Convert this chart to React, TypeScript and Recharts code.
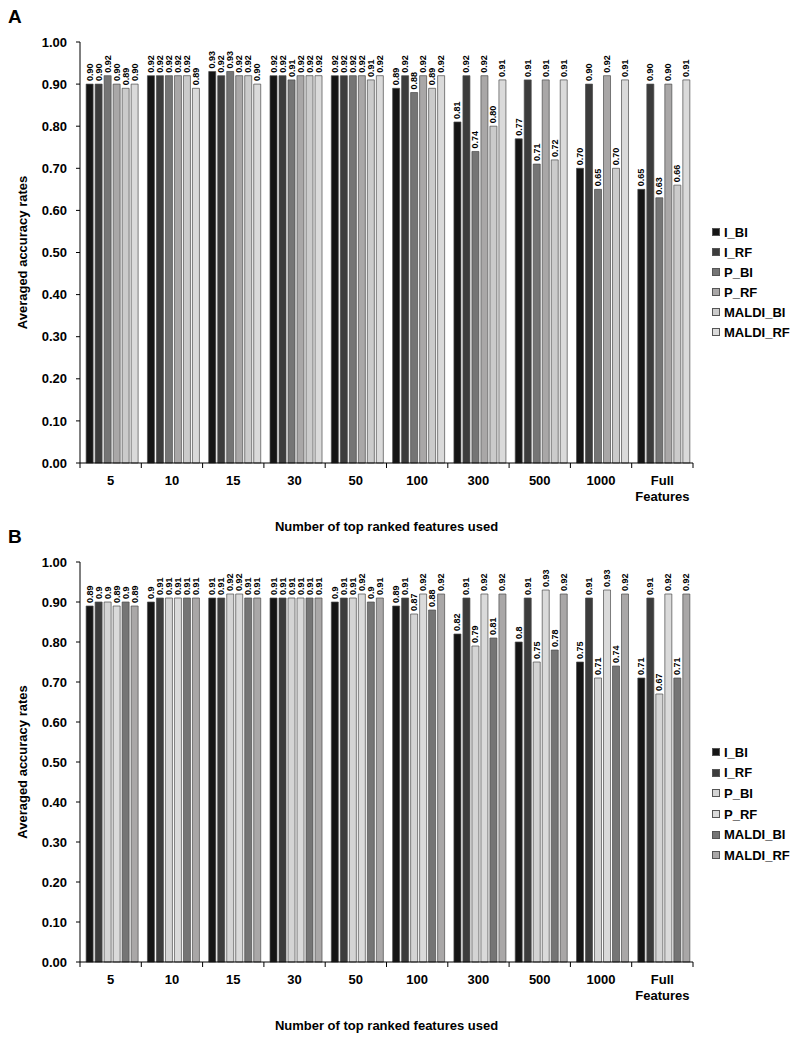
import React from 'react';
import { BarChart, Bar, XAxis, YAxis, LabelList, Label } from 'recharts';

const categories = ['5', '10', '15', '30', '50', '100', '300', '500', '1000', 'Full Features'];
const seriesNames = ['I_BI', 'I_RF', 'P_BI', 'P_RF', 'MALDI_BI', 'MALDI_RF'];
const yTicks = [0, 0.1, 0.2, 0.3, 0.4, 0.5, 0.6, 0.7, 0.8, 0.9, 1.0];

// panel A
const aIBI = [0.90, 0.92, 0.93, 0.92, 0.92, 0.89, 0.81, 0.77, 0.70, 0.65];
const aIRF = [0.90, 0.92, 0.92, 0.92, 0.92, 0.92, 0.92, 0.91, 0.90, 0.90];
const aPBI = [0.92, 0.92, 0.93, 0.91, 0.92, 0.88, 0.74, 0.71, 0.65, 0.63];
const aPRF = [0.90, 0.92, 0.92, 0.92, 0.92, 0.92, 0.92, 0.91, 0.92, 0.90];
const aMBI = [0.89, 0.92, 0.92, 0.92, 0.91, 0.89, 0.80, 0.72, 0.70, 0.66];
const aMRF = [0.90, 0.89, 0.90, 0.92, 0.92, 0.92, 0.91, 0.91, 0.91, 0.91];
const aColors = ['#151515', '#3c3c3c', '#757575', '#a9a7a7', '#cbcbcb', '#dadada'];

// panel B
const bIBI = [0.89, 0.9, 0.91, 0.91, 0.9, 0.89, 0.82, 0.8, 0.75, 0.71];
const bIRF = [0.9, 0.91, 0.91, 0.91, 0.91, 0.91, 0.91, 0.91, 0.91, 0.91];
const bPBI = [0.9, 0.91, 0.92, 0.91, 0.91, 0.87, 0.79, 0.75, 0.71, 0.67];
const bPRF = [0.89, 0.91, 0.92, 0.91, 0.92, 0.92, 0.92, 0.93, 0.93, 0.92];
const bMBI = [0.9, 0.91, 0.91, 0.91, 0.9, 0.88, 0.81, 0.78, 0.74, 0.71];
const bMRF = [0.89, 0.91, 0.91, 0.91, 0.91, 0.92, 0.92, 0.92, 0.92, 0.92];
const bColors = ['#151515', '#3c3c3c', '#d4d4d4', '#dadada', '#757575', '#a9a7a7'];

const buildRows = (series: number[][]) =>
  categories.map((c, i) => {
    const row: any = { name: c };
    seriesNames.forEach((s, j) => { row[s] = series[j][i]; });
    return row;
  });

const dataA = buildRows([aIBI, aIRF, aPBI, aPRF, aMBI, aMRF]);
const dataB = buildRows([bIBI, bIRF, bPBI, bPRF, bMBI, bMRF]);

const FONT = '"Liberation Sans", Arial, sans-serif';

const CatTick = (props: any) => {
  const { x, y, payload, index } = props;
  const half = payload && payload.offset ? payload.offset : 30.65;
  const lines = String(payload.value).split(' ');
  return (
    <g>
      <line x1={x - half} x2={x - half} y1={y} y2={y + 5} stroke="#000" />
      {index === categories.length - 1 && <line x1={x + half} x2={x + half} y1={y} y2={y + 5} stroke="#000" />}
      <text x={x} y={y + 22} textAnchor="middle" fontFamily={FONT} fontWeight="bold" fontSize={13} fill="#000">
        {lines.map((l, i) => (
          <tspan key={i} x={x} dy={i ? 16 : 0}>{l}</tspan>
        ))}
      </text>
    </g>
  );
};

const makeValueLabel = (fmt: (v: number) => string) => (props: any) => {
  const { x, y, width, value } = props;
  const cx = x + width / 2;
  const ty = y - 3;
  return (
    <text
      x={cx}
      y={ty}
      transform={`rotate(-90, ${cx}, ${ty})`}
      textAnchor="start"
      dominantBaseline="central"
      fontFamily={FONT}
      fontWeight="bold"
      fontSize={9}
      fill="#000"
    >
      {fmt(value)}
    </text>
  );
};

const YTitle = (props: any) => {
  const vb = props.viewBox || { y: 0, height: 0 };
  const cy = vb.y + vb.height / 2;
  return (
    <text x={22} y={cy} transform={`rotate(-90, 22, ${cy})`} textAnchor="middle" dominantBaseline="central"
      fontFamily={FONT} fontWeight="bold" fontSize={13} fill="#000">
      Averaged accuracy rates
    </text>
  );
};

interface PanelProps {
  data: any[];
  colors: string[];
  plotHeight: number;
  fmt: (v: number) => string;
  top: number;
  letter: string;
  legendTop: number;
  legendStep: number;
}

const Panel: React.FC<PanelProps> = ({ data, colors, plotHeight, fmt, top, letter, legendTop, legendStep }) => {
  const height = 42 + plotHeight + 68 + 8;
  const renderLabel = makeValueLabel(fmt);
  return (
    <div style={{ position: 'absolute', left: 0, top, width: 791, height }}>
      <div style={{ position: 'absolute', left: 8, top: 6, fontFamily: FONT, fontWeight: 'bold', fontSize: 19 }}>{letter}</div>
      <BarChart width={791} height={height} data={data} margin={{ top: 42, right: 98, bottom: 8, left: 0 }}
        barCategoryGap="10%" barGap={2}>
        <XAxis dataKey="name" height={68} tickSize={0} tickMargin={0} tickLine={false} interval={0}
          axisLine={{ stroke: '#000' }} tick={<CatTick />}>
          <Label value="Number of top ranked features used" position="insideBottom" offset={0}
            style={{ fontFamily: FONT, fontWeight: 'bold', fontSize: 13, fill: '#000' }} />
        </XAxis>
        <YAxis width={80} domain={[0, 1]} ticks={yTicks} interval={0} tickSize={4} tickMargin={9}
          axisLine={{ stroke: '#000' }} tickLine={{ stroke: '#000' }}
          tickFormatter={(v: number) => v.toFixed(2)}
          tick={{ fontFamily: FONT, fontWeight: 'bold', fontSize: 13, fill: '#000' }}>
          <Label content={<YTitle />} />
        </YAxis>
        {seriesNames.map((s, i) => (
          <Bar key={s} dataKey={s} fill={colors[i]} stroke="#4a4a4a" strokeWidth={0.7} isAnimationActive={false}>
            <LabelList dataKey={s} content={renderLabel} />
          </Bar>
        ))}
      </BarChart>
      <div style={{ position: 'absolute', left: 712, top: legendTop - top }}>
        {seriesNames.map((s, i) => (
          <div key={s} style={{ display: 'flex', alignItems: 'center', height: legendStep, fontFamily: FONT, fontWeight: 'bold', fontSize: 13 }}>
            <span style={{ display: 'inline-block', width: 6, height: 6, background: colors[i], border: '1px solid #555', marginRight: 4 }} />
            <span>{s}</span>
          </div>
        ))}
      </div>
    </div>
  );
};

export default function App() {
  return (
    <div style={{ position: 'absolute', left: 0, top: 0, width: 791, height: 1048, background: '#fff' }}>
      <Panel data={dataA} colors={aColors} plotHeight={421} fmt={(v) => v.toFixed(2)} top={0} letter="A"
        legendTop={222} legendStep={20} />
      <Panel data={dataB} colors={bColors} plotHeight={400} fmt={(v) => String(v)} top={520} letter="B"
        legendTop={742} legendStep={20.6} />
    </div>
  );
}
